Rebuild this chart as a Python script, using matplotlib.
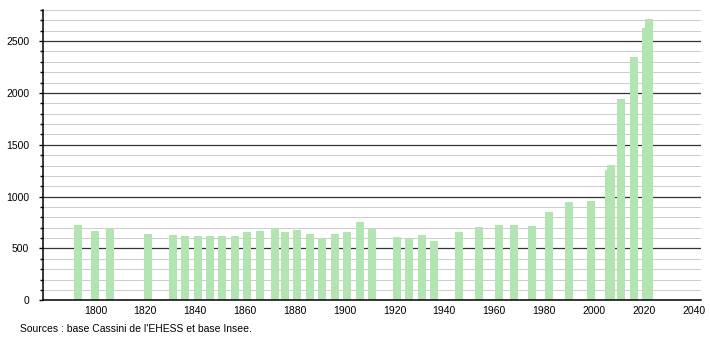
import numpy as np
import matplotlib.pyplot as plt
from matplotlib.ticker import MultipleLocator

plt.rcParams["font.family"] = ["Liberation Sans", "DejaVu Sans"]

years = [1793, 1800, 1806, 1821, 1831, 1836, 1841, 1846, 1851, 1856,
         1861, 1866, 1872, 1876, 1881, 1886, 1891, 1896, 1901, 1906,
         1911, 1921, 1926, 1931, 1936, 1946, 1954, 1962, 1968, 1975,
         1982, 1990, 1999, 2006, 2007, 2011, 2016, 2021, 2022]
population = [730, 671, 694, 642, 633, 623, 623, 623, 623, 623,
              662, 671, 697, 662, 681, 642, 600, 642, 662, 756,
              691, 610, 600, 633, 575, 662, 707, 730, 730, 720,
              856, 950, 959, 1256, 1301, 1941, 2345, 2626, 2716]
source = "Sources : base Cassini de l'EHESS et base Insee."

fig = plt.figure(figsize=(7.1, 3.4), dpi=100)
ax = fig.add_axes([43/710, 1-300.3/340, (701-43)/710, (300.3-10)/340])

ax.bar(years, population, width=3.2, color="#b2e5b2", zorder=3)

ax.set_xlim(1779, 2043)
ax.set_ylim(0, 2800)
ax.yaxis.set_major_locator(MultipleLocator(500))
ax.yaxis.set_minor_locator(MultipleLocator(100))
ax.set_xticks([x for x in range(1800, 2041, 20)])

# light minor grid every 100, dark major grid every 500
ax.grid(axis="y", which="minor", color="#cccccc", linewidth=0.7, zorder=1)
ax.grid(axis="y", which="major", color="#333333", linewidth=0.9, zorder=2)

for s in ["top", "right"]:
    ax.spines[s].set_visible(False)
for s in ["left", "bottom"]:
    ax.spines[s].set_linewidth(1.1)
    ax.spines[s].set_zorder(4)

ax.tick_params(axis="y", which="major", length=3, width=1, labelsize=7.5, pad=7)
ax.tick_params(axis="y", which="minor", length=2, width=1)
ax.tick_params(axis="x", length=0, labelsize=7.5, pad=4)

fig.text(20/710, 1-329/340, source, fontsize=7.5, va="center", ha="left")

plt.savefig("out.png", dpi=100)
